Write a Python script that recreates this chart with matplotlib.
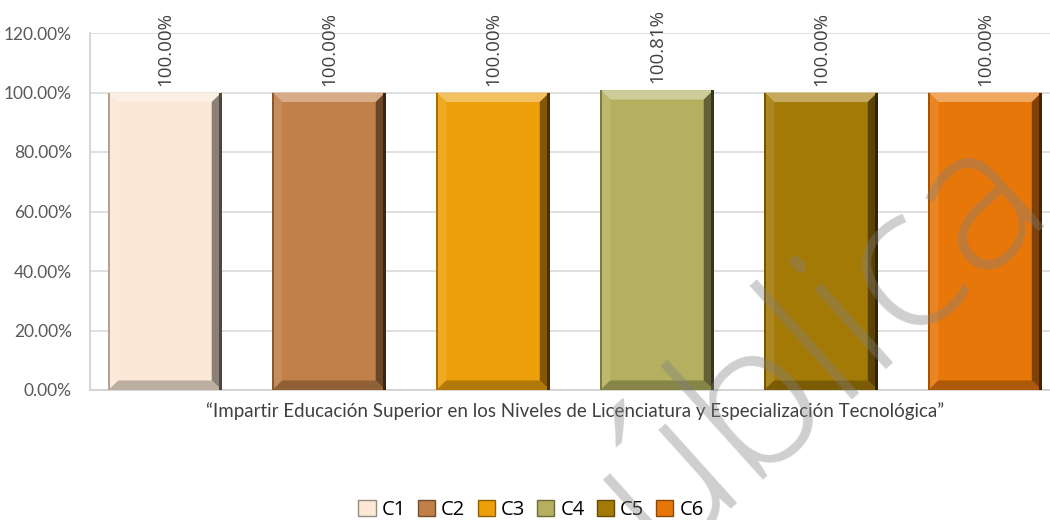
import matplotlib.pyplot as plt
import numpy as np
from matplotlib.colors import to_rgb
from matplotlib.patches import Patch, Polygon

# data
series = ['C1', 'C2', 'C3', 'C4', 'C5', 'C6']
values = [100.00, 100.00, 100.00, 100.81, 100.00, 100.00]
colors = ['#FBE8D6', '#C08048', '#EDA00A', '#B4B060', '#A47A07', '#E8770A']
category = '\u201cImpartir Educaci\u00f3n Superior en los Niveles de Licenciatura y Especializaci\u00f3n Tecnol\u00f3gica\u201d'
yticks = [0, 20, 40, 60, 80, 100, 120]

plt.rcParams['font.family'] = ['Lato', 'DejaVu Sans']


def mix(c, other, t):
    c = np.array(to_rgb(c))
    return tuple(c * (1 - t) + np.array(other) * t)


def bevel(ax, x0, w, h, color, bx=0.06, by=3.2):
    x1 = x0 + w
    top = Polygon([(x0, h), (x1, h), (x1 - bx, h - by), (x0 + bx, h - by)],
                  closed=True, fc=mix(color, (1, 1, 1), 0.35), ec='none', zorder=3)
    left = Polygon([(x0, 0), (x0, h), (x0 + bx, h - by), (x0 + bx, by)],
                   closed=True, fc=mix(color, (1, 1, 1), 0.10), ec='none', zorder=3)
    right = Polygon([(x1, 0), (x1, h), (x1 - bx, h - by), (x1 - bx, by)],
                    closed=True, fc=mix(color, (0, 0, 0), 0.45), ec='none', zorder=3)
    bottom = Polygon([(x0, 0), (x1, 0), (x1 - bx, by), (x0 + bx, by)],
                     closed=True, fc=mix(color, (0, 0, 0), 0.25), ec='none', zorder=3)
    for p in (top, left, right, bottom):
        ax.add_patch(p)
    # dark strips at the very edges
    ax.add_patch(Polygon([(x1 - 0.015, 0), (x1, 0), (x1, h), (x1 - 0.015, h)],
                         closed=True, fc=mix(color, (0, 0, 0), 0.7), ec='none', zorder=3))
    ax.add_patch(Polygon([(x0, 0), (x0 + 0.008, 0), (x0 + 0.008, h), (x0, h)],
                         closed=True, fc=mix(color, (0, 0, 0), 0.3), ec='none', zorder=3))


fig = plt.figure(figsize=(10.5, 5.2), dpi=100)
ax = fig.add_axes([90 / 1050, 130 / 520, 960 / 1050, 357 / 520])

pos = np.arange(len(series))
width = 0.69
bars = ax.bar(pos, values, width=width, color=colors, zorder=2)
for b, c in zip(bars, colors):
    bevel(ax, b.get_x(), b.get_width(), b.get_height(), c)

for p, v in zip(pos, values):
    ax.annotate(f'{v:.2f}%', (p, v), xytext=(0, 5), textcoords='offset points',
                rotation=90, ha='center', va='bottom', fontsize=13.5,
                family=['Open Sans', 'DejaVu Sans'], color='#404040')

ax.set_ylim(0, 120)
ax.set_xlim(-0.457, 5.396)
ax.set_yticks(yticks)
ax.set_yticklabels([f'{t:.2f}%' for t in yticks], fontsize=12.5, color='#595959')
ax.set_xticks([pos.mean()])
ax.set_xticklabels([category], fontsize=13.5, color='#404040')
ax.tick_params(length=0)
ax.tick_params(axis='y', pad=13)
ax.tick_params(axis='x', pad=9)
ax.grid(axis='y', color='#d9d9d9', lw=1.2, zorder=0)
ax.set_axisbelow(True)
for s in ['top', 'right']:
    ax.spines[s].set_visible(False)
for s in ['left', 'bottom']:
    ax.spines[s].set_color('#d0d0d0')
    ax.spines[s].set_linewidth(1.2)

handles = [Patch(fc=c, ec=mix(c, (0, 0, 0), 0.4), lw=1) for c in colors]
fig.legend(handles, series, loc='center', bbox_to_anchor=(531 / 1050, 1 - 510 / 520),
           ncol=6, frameon=False, handlelength=0.85, handleheight=0.85,
           handletextpad=0.3, columnspacing=0.6,
           prop={'family': ['Open Sans', 'DejaVu Sans'], 'size': 14.5})

# watermark
fig.text(821 / 1050, 1 - 342 / 520, '\u00fablica', rotation=42, ha='center', va='center',
         fontsize=145, color='#808080', alpha=0.38, fontweight='light',
         family=['Open Sans', 'DejaVu Sans'], zorder=10)

fig.savefig('out.png', dpi=100)
